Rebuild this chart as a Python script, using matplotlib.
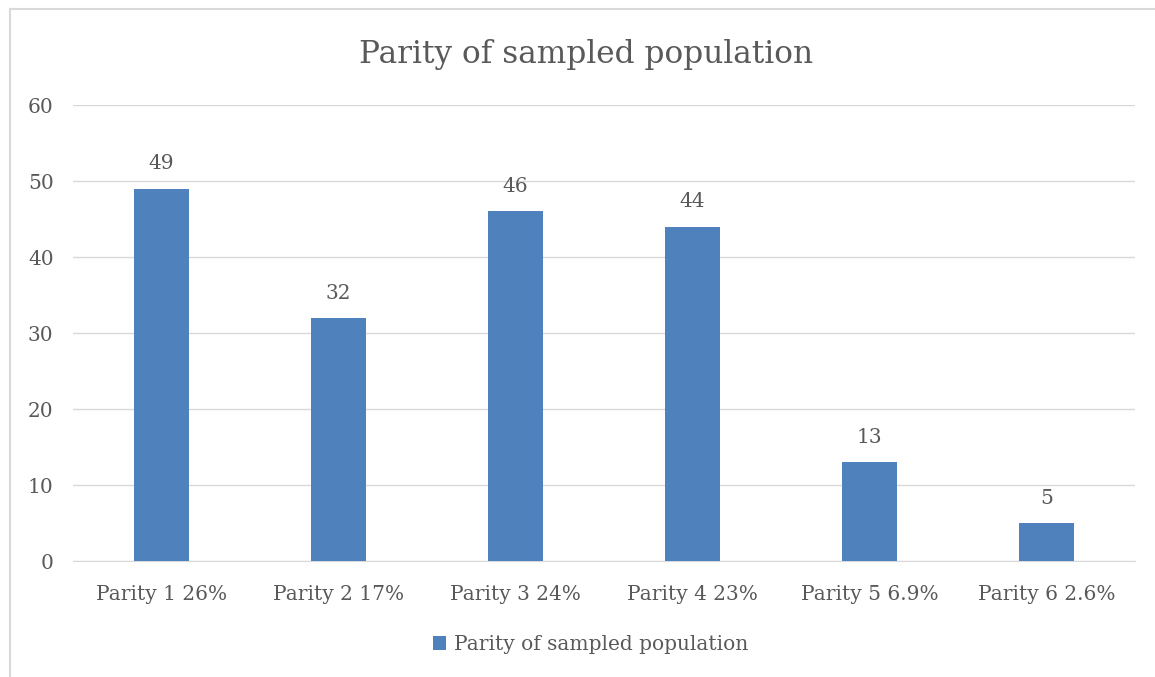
import matplotlib.pyplot as plt
from matplotlib.lines import Line2D

categories = ['Parity 1 26%', 'Parity 2 17%', 'Parity 3 24%',
              'Parity 4 23%', 'Parity 5 6.9%', 'Parity 6 2.6%']
counts = [49, 32, 46, 44, 13, 5]
series_name = 'Parity of sampled population'

plt.rcParams['font.family'] = ['DejaVu Serif']
text_color = '#595959'
bar_color = '#4F81BD'
grid_color = '#D9D9D9'

fig = plt.figure(figsize=(11.55, 6.77), dpi=100)
ax = fig.add_axes([0.0632, 0.1713, 0.9195, 0.6736])

x = list(range(len(categories)))
bars = ax.bar(x, counts, width=0.31, color=bar_color, label=series_name, zorder=3)
for b, v in zip(bars, counts):
    ax.annotate(str(v), (b.get_x() + b.get_width() / 2, v), xytext=(0, 11),
                textcoords='offset points', ha='center', va='bottom',
                fontsize=14.5, color=text_color)

ax.set_xlim(-0.5, len(categories) - 0.5)
ax.set_ylim(0, 60)
ax.set_yticks(range(0, 61, 10))
ax.set_xticks(x)
ax.set_xticklabels(categories)
ax.tick_params(length=0, labelsize=14.5, labelcolor=text_color)
ax.tick_params(axis='x', pad=17)
ax.tick_params(axis='y', pad=14)
ax.yaxis.grid(True, color=grid_color, linewidth=1, zorder=0)
for side in ['top', 'right', 'left']:
    ax.spines[side].set_visible(False)
ax.spines['bottom'].set_color(grid_color)

fig.suptitle(series_name, x=0.507, y=0.943, fontsize=22.5, color=text_color)

fig.legend(handles=[bars], labels=[series_name], loc='center', bbox_to_anchor=(0.511, 0.048),
           frameon=False, fontsize=14.5, handlelength=0.65, handleheight=0.65,
           handletextpad=0.4, labelcolor=text_color)

# thin frame along the left and top edges
fig.add_artist(Line2D([9.5 / 1155, 9.5 / 1155], [0, 1 - 8.5 / 677],
                      transform=fig.transFigure, color='#D9D9D9', linewidth=1.5))
fig.add_artist(Line2D([9.5 / 1155, 1], [1 - 8.5 / 677, 1 - 8.5 / 677],
                      transform=fig.transFigure, color='#D9D9D9', linewidth=1.5))

fig.savefig('out.png', dpi=100)
